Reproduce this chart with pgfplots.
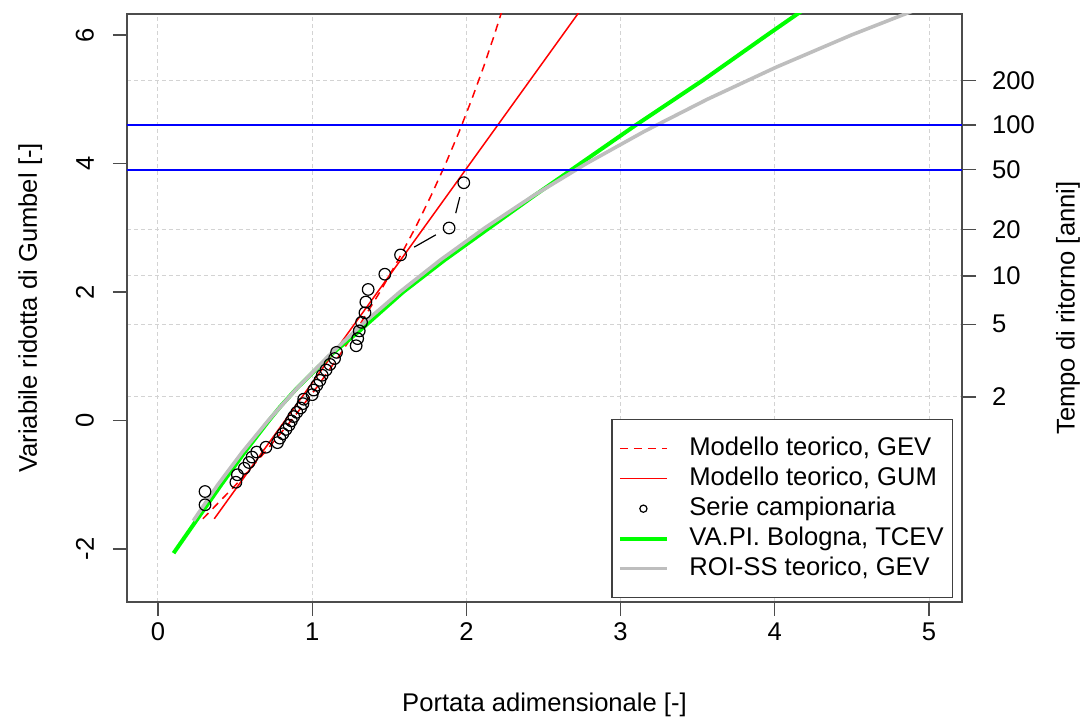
\documentclass[border=0pt]{standalone}
\usepackage{fontspec}
\setmainfont{Liberation Sans}
\usepackage{pgfplots}
\pgfplotsset{compat=1.18}
\definecolor{gridgray}{RGB}{211,211,211}
\definecolor{rgrey}{RGB}{190,190,190}
\definecolor{rgreen}{RGB}{0,255,0}
\definecolor{rblue}{RGB}{0,0,255}
\definecolor{rred}{RGB}{255,0,0}
\begin{document}
\begin{tikzpicture}[font=\fontsize{12.8}{15}\selectfont]
\useasboundingbox (-63.5pt,-58pt) rectangle (478.5pt,301pt);
% right axis: return period
\begin{axis}[
  at={(0pt,0pt)}, anchor=south west, scale only axis,
  width=417.5pt, height=294pt,
  xmin=-0.201, xmax=5.214, ymin=-2.825, ymax=6.327,
  axis x line=none, axis y line*=right,
  xtick=\empty,
  ytick={0.36651,1.49994,2.25037,2.97020,3.90194,4.60015,5.29581},
  yticklabels={2,5,10,20,50,100,200},
  tick align=outside, major tick length=7pt,
  ymajorgrids,
  grid style={gridgray, line width=0.5pt, dash pattern=on 2pt off 1.5pt},
  axis line style={black!70, line width=0.6pt},
  tick style={black!70, line width=0.6pt},
  yticklabel style={anchor=west},
  yticklabel shift=4.5pt,
  ylabel={Tempo di ritorno [anni]},
  every axis y label/.style={at={(axis description cs:1.127,0.5)}, rotate=90, anchor=center},
]
\addplot[draw=none, forget plot] coordinates {(0,0)};
\end{axis}
% main axis
\begin{axis}[
  at={(0pt,0pt)}, anchor=south west, scale only axis,
  width=417.5pt, height=294pt,
  xmin=-0.201, xmax=5.214, ymin=-2.825, ymax=6.327,
  xtick={0,1,2,3,4,5}, xticklabels={0,1,2,3,4,5},
  ytick={-2,0,2,4,6}, yticklabels={-2,0,2,4,6},
  xtick pos=left, ytick pos=left,
  tick align=outside, major tick length=7pt,
  xmajorgrids,
  grid style={gridgray, line width=0.5pt, dash pattern=on 2pt off 1.5pt},
  axis line style={black!70, line width=0.6pt},
  tick style={black!70, line width=0.6pt},
  yticklabel style={rotate=90, anchor=south},
  yticklabel shift=6pt,
  xlabel={Portata adimensionale [-]},
  ylabel={Variabile ridotta di Gumbel [-]},
  xlabel style={at={(axis description cs:0.5,-0.175)}, anchor=center},
  ylabel style={at={(axis description cs:-0.116,0.5)}, anchor=center},
  legend image code/.code={\draw[#1] (0pt,0pt) -- (23.5pt,0pt);},
  legend cell align=left,
  legend style={at={(rel axis cs:0.9889,0.0063)}, anchor=south east,
    draw=black!75, line width=0.6pt, inner xsep=3pt, inner ysep=7pt,
    row sep=0pt, font=\fontsize{12.8}{15}\selectfont,
    nodes={text height=9.5pt, text depth=3pt, inner sep=1.25pt},
    /tikz/every odd column/.append style={column sep=9pt}},
]
% GEV model (dashed)
\addplot[rred, line width=0.75pt, dash pattern=on 4pt off 3pt] coordinates {
(0.291,-1.53) (0.505,-1.0) (0.691,-0.5) (0.864,0) (1.025,0.5) (1.173,1.0)
(1.311,1.5) (1.439,2.0) (1.558,2.5) (1.669,3.0) (1.771,3.5) (1.866,4.0)
(1.954,4.5) (2.035,5.0) (2.111,5.5) (2.181,6.0) (2.247,6.5)};
\addlegendentry{Modello teorico, GEV}
% GUM model
\addplot[rred, line width=0.75pt] coordinates {(0.365,-1.53) (2.774,6.5)};
\addlegendentry{Modello teorico, GUM}
% sample series
\addplot[only marks, mark=o, black, mark size=2.9pt, mark options={line width=0.6pt},
  legend image code/.code={\draw[black, line width=0.6pt] (11.75pt,0pt) circle (1.8pt);}]
coordinates {
(0.305,-1.3120) (0.305,-1.1054) (0.505,-0.9612) (0.515,-0.8447) (0.560,-0.7439)
(0.590,-0.6533) (0.610,-0.5697) (0.640,-0.4911) (0.700,-0.4163) (0.775,-0.3443)
(0.790,-0.2744) (0.810,-0.2060) (0.830,-0.1386) (0.850,-0.0719) (0.865,-0.0055)
(0.880,0.0608) (0.900,0.1274) (0.925,0.1946) (0.940,0.2624) (0.945,0.3315)
(1.000,0.4019) (1.010,0.4740) (1.030,0.5480) (1.050,0.6246) (1.065,0.7039)
(1.090,0.7864) (1.115,0.8730) (1.145,0.9639) (1.158,1.0604) (1.285,1.1634)
(1.295,1.2744) (1.305,1.3950) (1.320,1.5274) (1.342,1.6756) (1.348,1.8437)
(1.363,2.0397) (1.471,2.2766) (1.573,2.5770) (1.888,2.9960) (1.983,3.7010)};
\addlegendentry{Serie campionaria}
% connecting segments (type b)
\addplot[black, line width=0.6pt, forget plot] coordinates {(1.661,2.698) (1.802,2.890)};
\addplot[black, line width=0.6pt, forget plot] coordinates {(1.931,3.227) (1.957,3.476)};
% VAPI TCEV
\addplot[rgreen, line width=2pt] coordinates {
(0.101,-2.065) (0.265,-1.5) (0.41,-1.0) (0.56,-0.5) (0.72,0) (0.79,0.207)
(0.90,0.5) (1.11,1.0) (1.309,1.4) (1.59,2.0) (1.86,2.5) (2.15,3.0) (2.44,3.5)
(2.681,3.902) (3.10,4.600) (3.534,5.296) (3.95,6.0) (4.25,6.5)};
\addlegendentry{VA.PI. Bologna, TCEV}
% ROI-SS GEV
\addplot[rgrey, line width=1.8pt] coordinates {
(0.229,-1.56) (0.388,-1.0) (0.544,-0.5) (0.715,0) (0.901,0.5) (1.104,1.0)
(1.326,1.5) (1.568,2.0) (1.832,2.5) (2.121,3.0) (2.435,3.5) (2.779,4.0)
(3.154,4.5) (3.563,5.0) (4.010,5.5) (4.497,6.0) (5.029,6.5)};
\addlegendentry{ROI-SS teorico, GEV}
% return period lines
\addplot[rblue, line width=1pt, forget plot] coordinates {(-0.201,3.90194) (5.214,3.90194)};
\addplot[rblue, line width=1pt, forget plot] coordinates {(-0.201,4.60015) (5.214,4.60015)};
\end{axis}
\end{tikzpicture}
\end{document}
